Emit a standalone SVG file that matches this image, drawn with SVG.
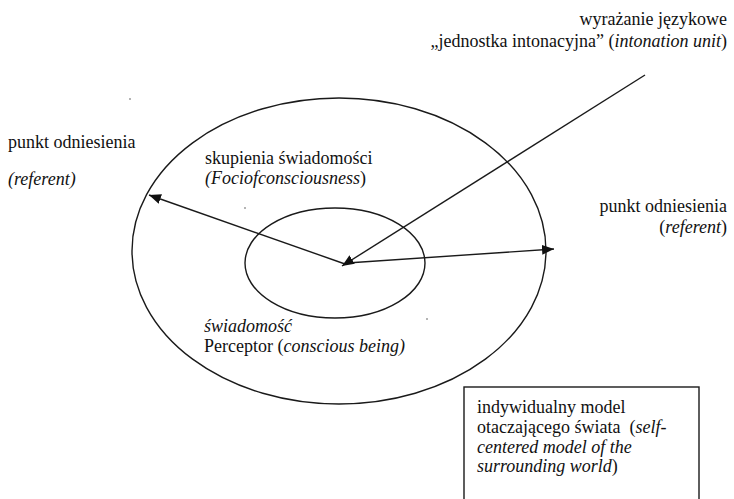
<svg xmlns="http://www.w3.org/2000/svg" width="734" height="499" viewBox="0 0 734 499">
<style>
text{font-family:"Liberation Serif","Times New Roman",serif;font-size:18px;fill:#111}
.i{font-style:italic}
.r{text-anchor:end}
.ln{stroke:#1a1a1a;stroke-width:1.4;fill:none}
</style>
<defs>
<marker id="ah" viewBox="0 0 12 10" refX="12" refY="5" markerWidth="12" markerHeight="10" markerUnits="userSpaceOnUse" orient="auto">
<path d="M0,0 L12,5 L0,10 z" fill="#111"/>
</marker>
</defs>
<rect width="734" height="499" fill="#fff"/>
<g id="outer-ellipse"><ellipse class="ln" cx="339" cy="251" rx="207" ry="153"/></g>
<g id="inner-ellipse"><ellipse class="ln" cx="335" cy="263" rx="90" ry="55"/></g>
<g id="box"><rect class="ln" x="464" y="387" width="235" height="120" fill="#fff"/>
<text x="477" y="413">indywidualny model</text>
<text x="477" y="433">otaczającego świata&#160; (<tspan class="i">self-</tspan></text>
<text x="477" y="453" class="i">centered model of the</text>
<text x="477" y="472"><tspan class="i">surrounding world</tspan>)</text>
</g>
<g id="connectors">
<line class="ln" x1="345" y1="264" x2="149" y2="195" marker-end="url(#ah)"/>
<line class="ln" x1="347" y1="263" x2="554" y2="249" marker-end="url(#ah)"/>
<line class="ln" x1="645" y1="75" x2="342" y2="266" marker-end="url(#ah)"/>
</g>
<g id="label-utterance">
<text x="727" y="25" class="r">wyrażanie językowe</text>
<text x="727" y="47" class="r">„jednostka intonacyjna” (<tspan class="i">intonation unit</tspan>)</text>
</g>
<g id="label-referent-left">
<text x="8" y="148">punkt odniesienia</text>
<text x="8" y="185" class="i">(referent)</text>
</g>
<g id="label-foci">
<text x="205" y="164">skupienia świadomości</text>
<text x="205" y="184"><tspan class="i">(Fociofconsciousness</tspan>)</text>
</g>
<g id="label-referent-right">
<text x="727" y="212" class="r">punkt odniesienia</text>
<text x="727" y="233" class="r">(<tspan class="i">referent</tspan>)</text>
</g>
<g id="label-perceptor">
<text x="204" y="332" class="i">świadomość</text>
<text x="204" y="352">Perceptor (<tspan class="i">conscious being)</tspan></text>
</g>
<g id="specks" fill="#555">
<circle cx="130" cy="99" r="0.8"/>
<circle cx="245" cy="208" r="0.8"/>
<circle cx="427" cy="319" r="0.8"/>
</g>
</svg>
